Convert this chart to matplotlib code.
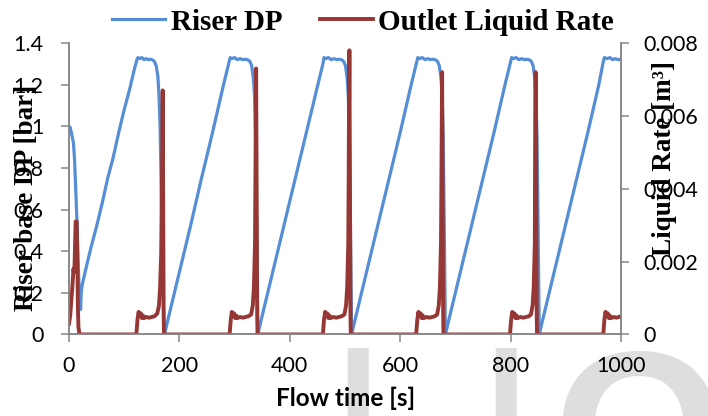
import matplotlib.pyplot as plt

# Riser base DP [bar] (left axis)
blue_t = [0, 2, 5, 8, 10, 12, 14, 16, 18, 20, 21, 22, 24, 30, 40, 50, 60, 70, 80, 90,
          100, 110, 118, 123, 125, 128, 132, 136, 140, 144, 148, 152, 155, 158, 161, 163,
          165, 167, 169, 171, 173,
          180, 200, 220, 240, 260, 280, 290, 292, 295, 300, 305, 310, 315, 320, 325, 328,
          331, 334, 336, 338, 340, 342,
          350, 370, 390, 410, 430, 450, 460, 462, 465, 470, 475, 480, 485, 490, 495, 498,
          501, 504, 506, 508, 510, 512,
          520, 540, 560, 580, 600, 620, 630, 632, 635, 640, 645, 650, 655, 660, 665, 668,
          671, 674, 676, 678, 680, 682,
          690, 710, 730, 750, 770, 790, 800, 802, 805, 810, 815, 820, 825, 830, 835, 838,
          841, 844, 846, 848, 850, 852,
          860, 880, 900, 920, 940, 960, 968, 970, 975, 980, 985, 990, 995, 1000]
blue_v = [1.00, 0.995, 0.96, 0.92, 0.84, 0.70, 0.57, 0.38, 0.24, 0.14, 0.12, 0.20, 0.24, 0.31,
          0.42, 0.52, 0.63, 0.75, 0.85, 0.97, 1.08, 1.18, 1.27, 1.32, 1.33, 1.325, 1.33, 1.32,
          1.325, 1.32, 1.322, 1.318, 1.31, 1.29, 1.24, 1.15, 1.0, 0.7, 0.4, 0.12, 0.0,
          0.08, 0.30, 0.52, 0.75, 0.97, 1.20, 1.31, 1.33, 1.325, 1.33, 1.32, 1.325, 1.32,
          1.322, 1.318, 1.31, 1.29, 1.23, 1.15, 0.95, 0.5, 0.0,
          0.09, 0.31, 0.53, 0.75, 0.97, 1.19, 1.30, 1.33, 1.325, 1.33, 1.32, 1.325, 1.32,
          1.322, 1.318, 1.31, 1.29, 1.23, 1.15, 0.95, 0.5, 0.0,
          0.09, 0.31, 0.53, 0.75, 0.97, 1.20, 1.31, 1.33, 1.325, 1.33, 1.32, 1.325, 1.32,
          1.322, 1.318, 1.31, 1.29, 1.23, 1.15, 0.95, 0.5, 0.0,
          0.09, 0.31, 0.53, 0.75, 0.97, 1.20, 1.31, 1.33, 1.325, 1.33, 1.32, 1.325, 1.32,
          1.322, 1.318, 1.31, 1.29, 1.23, 1.15, 0.95, 0.5, 0.0,
          0.09, 0.31, 0.53, 0.75, 0.97, 1.20, 1.31, 1.33, 1.325, 1.33, 1.32, 1.325, 1.32, 1.322]

# Outlet liquid rate [m3] (right axis)
red_t = [0, 2, 4, 6, 8, 9, 10, 11, 12, 14, 15, 16, 17, 19,
         122, 124, 126, 128, 130, 132, 134, 136, 140, 145, 150, 155, 160, 163, 165, 167,
         168.5, 169.7, 170.5, 171.5, 172,
         291, 293, 295, 297, 299, 301, 303, 305, 310, 315, 320, 325, 330, 333, 335, 337,
         338, 339, 340, 341, 341.5,
         460, 462, 464, 466, 468, 470, 472, 474, 479, 484, 489, 494, 499, 502, 504, 506,
         507, 508, 509, 510, 510.5,
         629, 631, 633, 635, 637, 639, 641, 643, 648, 653, 658, 663, 667, 670, 672, 674,
         675, 676, 677, 678, 678.5,
         799, 801, 803, 805, 807, 809, 811, 813, 818, 823, 828, 833, 837, 840, 842, 844,
         844.5, 845.5, 846.5, 847.5, 848,
         968, 970, 972, 974, 976, 978, 980, 982, 987, 992, 996, 1000]
red_v = [0.0003, 0.0005, 0.0009, 0.0013, 0.0018, 0.0017, 0.0019, 0.0025, 0.0031, 0.0031,
         0.0022, 0.0008, 0.0002, 0.0,
         0.0, 0.0004, 0.00062, 0.0005, 0.00058, 0.00045, 0.00052, 0.00045, 0.00048, 0.00046,
         0.00048, 0.0005, 0.00058, 0.0008, 0.0013, 0.0022, 0.0045, 0.0067, 0.004, 0.0005, 0.0,
         0.0, 0.0004, 0.00062, 0.0005, 0.00058, 0.00045, 0.00052, 0.00045, 0.00048, 0.00046,
         0.00048, 0.0005, 0.00055, 0.0008, 0.0013, 0.0025, 0.0050, 0.0073, 0.004, 0.0005, 0.0,
         0.0, 0.0004, 0.00062, 0.0005, 0.00058, 0.00045, 0.00052, 0.00045, 0.00048, 0.00046,
         0.00048, 0.0005, 0.00055, 0.0008, 0.0013, 0.0025, 0.0052, 0.0078, 0.004, 0.0005, 0.0,
         0.0, 0.0004, 0.00062, 0.0005, 0.00058, 0.00045, 0.00052, 0.00045, 0.00048, 0.00046,
         0.00048, 0.0005, 0.00055, 0.0008, 0.0013, 0.0025, 0.0050, 0.0072, 0.004, 0.0005, 0.0,
         0.0, 0.0004, 0.00062, 0.0005, 0.00058, 0.00045, 0.00052, 0.00045, 0.00048, 0.00046,
         0.00048, 0.0005, 0.00055, 0.0008, 0.0013, 0.0025, 0.0050, 0.0072, 0.004, 0.0005, 0.0,
         0.0, 0.0004, 0.00062, 0.0005, 0.00058, 0.00045, 0.00052, 0.00045, 0.00048, 0.00046,
         0.00048, 0.0005]

x_ticks = [0, 200, 400, 600, 800, 1000]
left_ticks = [0, 0.2, 0.4, 0.6, 0.8, 1.0, 1.2, 1.4]
left_labels = ['0', '0.2', '0.4', '0.6', '0.8', '1', '1.2', '1.4']
right_ticks = [0, 0.002, 0.004, 0.006, 0.008]
right_labels = ['0', '0.002', '0.004', '0.006', '0.008']

BLUE = '#558ED5'
RED = '#953735'
GRAY = '#868686'
serif = {'family': 'Liberation Serif', 'weight': 'bold', 'size': 19.5}

fig = plt.figure(figsize=(7.08, 4.16), dpi=100)

# faint watermark behind everything (only its top shows)
wm = dict(family='Liberation Sans', weight='bold', color='#DEDEDE',
          ha='left', va='baseline', zorder=-5)
fig.text(0.477, -0.079, 'I', fontsize=105, **wm)
fig.text(0.685, -0.079, 'I', fontsize=105, **wm)
fig.text(0.781, -0.219, 'O', fontsize=160, **wm)

ax1 = fig.add_axes([0.0975, 0.196, 0.7795, 0.7006])
ax1.patch.set_alpha(0)
ax2 = ax1.twinx()

l1, = ax1.plot(blue_t, blue_v, color=BLUE, lw=2.3, label='Riser DP')
l2, = ax2.plot(red_t, red_v, color=RED, lw=2.8, label='Outlet Liquid Rate')

ax1.set_xlim(0, 1000)
ax1.set_ylim(0, 1.4)
ax2.set_ylim(0, 0.008)
ax1.set_xticks(x_ticks)
ax1.set_yticks(left_ticks)
ax1.set_yticklabels(left_labels)
ax2.set_yticks(right_ticks)
ax2.set_yticklabels(right_labels)

for ax in (ax1, ax2):
    for s in ax.spines.values():
        s.set_color(GRAY)
        s.set_linewidth(1.1)
    ax.spines['top'].set_visible(False)
    ax.tick_params(colors=GRAY, labelcolor='black', labelsize=15.5, length=5.5, width=1.1)
    for lab in ax.get_xticklabels() + ax.get_yticklabels():
        lab.set_family('Lato')
ax1.tick_params(axis='y', pad=13)
ax1.tick_params(axis='x', pad=10)
ax2.tick_params(axis='y', pad=11)

fig.text(0.488, 0.043, 'Flow time [s]', ha='center', va='center',
         fontsize=17.5, family='Lato', weight='bold')
fig.text(0.038, 0.524, 'Riser base DP [bar]', rotation=90, ha='center', va='center',
         fontdict=serif)
fig.text(0.938, 0.618, 'Liquid Rate [m³]', rotation=90, ha='center', va='center',
         fontdict=serif)

fig.legend(handles=[l1, l2], loc='center', bbox_to_anchor=(0.513, 0.947), ncol=2,
           frameon=False, prop=dict(serif, size=21), handlelength=1.8, handletextpad=0.2,
           columnspacing=1.3)

fig.savefig('out.png', dpi=100)
